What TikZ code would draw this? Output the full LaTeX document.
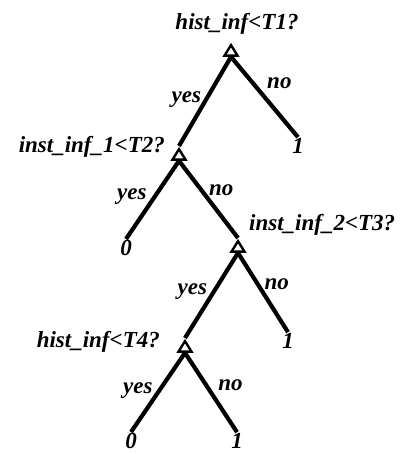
\documentclass[tikz,border=0pt]{standalone}
\usepackage{fontspec}
\setmainfont{Liberation Serif}[BoldItalicFont=* Bold Italic]
\usetikzlibrary{shapes.geometric}

\begin{document}
\begin{tikzpicture}[x=1pt,y=-1pt,
    every node/.style={font=\fontsize{23}{27}\selectfont\bfseries\itshape, inner sep=1pt},
    split/.style={draw, line width=2.4pt, isosceles triangle, isosceles triangle stretches,
        shape border rotate=90, minimum width=13pt, minimum height=10.5pt, inner sep=0pt, anchor=apex},
    branch/.style={line width=4.2pt}]
    \useasboundingbox (0,0) rectangle (401,454);

    % tests
    \node[split] (n1) at (231,42) {};
    \node[split] (n2) at (179,146) {};
    \node[split] (n3) at (238,238) {};
    \node[split] (n4) at (185,338) {};

    \node[anchor=base]      (c1) at (237,30)  {hist\_inf<T1?};
    \node[anchor=base east] (c2) at (166,153) {inst\_inf\_1<T2?};
    \node[anchor=base west] (c3) at (248,230) {inst\_inf\_2<T3?};
    \node[anchor=base east] (c4) at (161,347) {hist\_inf<T4?};

    % leaves
    \node (l1) at (298,146) {1};
    \node (l2) at (126,248) {0};
    \node (l3) at (288,341) {1};
    \node (l4) at (131,441) {0};
    \node (l5) at (237,441) {1};

    \draw[branch]
        (n1.lower side) to node[pos=.48, left=2pt] {yes} (n2.apex);
    \draw[branch]
        (n1.lower side) to node[pos=.33, right=11pt] {no} (l1.north);
    \draw[branch]
        (n2.lower side) to node[pos=.46, left=5pt] {yes} (l2.north);
    \draw[branch]
        (n2.lower side) to node[pos=.38, right=4.5pt] {no} (n3.apex);
    \draw[branch]
        (n3.lower side) to node[pos=.45, left=4pt] {yes} (n4.apex);
    \draw[branch]
        (n3.lower side) to node[pos=.39, right=4pt] {no} (l3.north);
    \draw[branch]
        (n4.lower side) to node[pos=.48, left=3.5pt] {yes} (l4.north);
    \draw[branch]
        (n4.lower side) to node[pos=.41, right=9pt] {no} (l5.north);
\end{tikzpicture}
\end{document}
